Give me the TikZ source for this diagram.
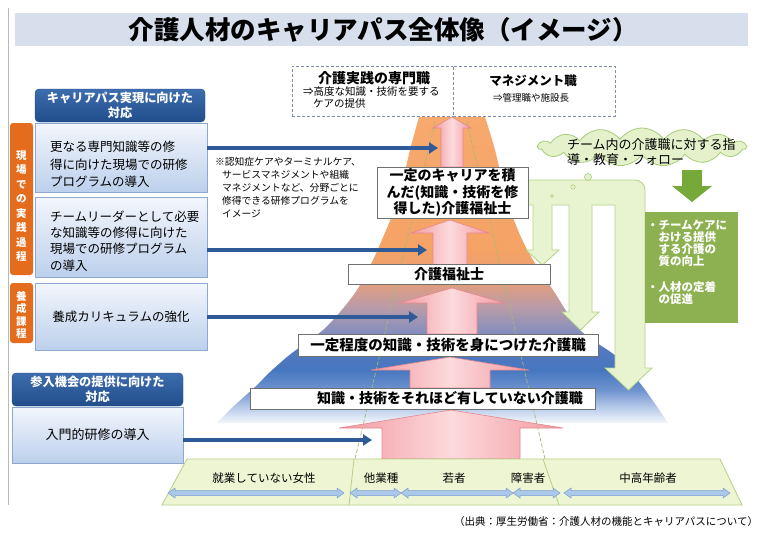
\documentclass[tikz,border=0pt]{standalone}
\usepackage{fontspec}
\setmainfont{Noto Sans CJK JP}
\usetikzlibrary{shapes.symbols,arrows.meta}
\definecolor{titlebg}{HTML}{D6DFEB}
\definecolor{hdrtop}{HTML}{3D6DAF}
\definecolor{hdrbot}{HTML}{214D8A}
\definecolor{lboxtop}{HTML}{F3F6FC}
\definecolor{lboxbot}{HTML}{BCD0EC}
\definecolor{lboxline}{HTML}{8FA8D0}
\definecolor{sideorange}{HTML}{E46C1C}
\definecolor{barrowcol}{HTML}{2E5B98}
\definecolor{pinkmid}{HTML}{FCDADC}
\definecolor{pinkedge}{HTML}{F29AA2}
\definecolor{pinkline}{HTML}{E5878E}
\definecolor{glinecol}{HTML}{A3BC6E}
\definecolor{dashcol}{HTML}{7D8CA8}
\definecolor{cloudfill}{HTML}{E4F1CB}
\definecolor{cloudline}{HTML}{A9CB78}
\definecolor{garrow}{HTML}{76A83A}
\definecolor{gboxcol}{HTML}{8DB150}
\definecolor{combfill}{HTML}{E8F4D0}
\definecolor{combline}{HTML}{B3D288}
\definecolor{bandfill}{HTML}{EEF5D3}
\definecolor{bandline}{HTML}{B8CE86}
\definecolor{dblfill}{HTML}{ABC8EA}
\definecolor{dblline}{HTML}{7C9FCC}
\definecolor{wline}{HTML}{707070}
\definecolor{pyA}{HTML}{F4F7FB}
\definecolor{pyB}{HTML}{B8CBEA}
\definecolor{pyC}{HTML}{6F93CF}
\definecolor{pyD}{HTML}{4676C0}
\definecolor{pyE}{HTML}{5279BE}
\definecolor{pyF}{HTML}{8A90BC}
\definecolor{pyG}{HTML}{BD9CA5}
\definecolor{pyH}{HTML}{E69E78}
\definecolor{pyI}{HTML}{F5A265}
\definecolor{pyJ}{HTML}{F7A96E}
\pgfdeclareverticalshading{pyr}{100bp}{color(0bp)=(pyA); color(25bp)=(pyA); color(27.5bp)=(pyB); color(30.4bp)=(pyC); color(33.7bp)=(pyD); color(36.9bp)=(pyE); color(40.2bp)=(pyF); color(44.3bp)=(pyG); color(48.4bp)=(pyH); color(53.3bp)=(pyI); color(75bp)=(pyJ); color(100bp)=(pyJ)}
% cx, ybottom, ytip, shaft half, head half, head length
\newcommand\pinkarr[6]{%
  \shadedraw[pinkarrow] ({#1-#4},#2) -- ({#1-#4},{#3+#6}) -- ({#1-#5},{#3+#6}) -- (#1,#3) -- ({#1+#5},{#3+#6}) -- ({#1+#4},{#3+#6}) -- ({#1+#4},#2) -- cycle;}
% x1, x2, y
\newcommand\dblarr[3]{%
  \filldraw[dblarrow] (#1,#3) -- ({#1+7},{#3-5}) -- ({#1+7},{#3-2.5}) -- ({#2-7},{#3-2.5}) -- ({#2-7},{#3-5}) -- (#2,#3) -- ({#2-7},{#3+5}) -- ({#2-7},{#3+2.5}) -- ({#1+7},{#3+2.5}) -- ({#1+7},{#3+5}) -- cycle;}
\begin{document}
\begin{tikzpicture}[x=1pt,y=-1pt,
  every node/.style={inner sep=0pt, outer sep=0pt},
  hdr/.style={rounded corners=4pt, top color=hdrtop, bottom color=hdrbot, draw=hdrbot, text=white, font=\fontsize{12.2}{15}\selectfont\bfseries, align=center},
  lbox/.style={top color=lboxtop, bottom color=lboxbot, draw=lboxline, line width=0.7pt},
  side/.style={fill=sideorange, rounded corners=3pt},
  sidetext/.style={text=white, font=\fontsize{10.5}{14.5}\selectfont\bfseries, align=center},
  btext/.style={font=\fontsize{12.5}{17.5}\selectfont, align=left, anchor=west},
  barrow/.style={draw=barrowcol, line width=4.5pt, -{Triangle[length=9pt,width=11pt]}},
  wbox/.style={fill=white, draw=wline, line width=0.8pt},
  wtext/.style={font=\fontsize{14}{16.5}\selectfont\bfseries, align=center},
  dashbox/.style={fill=white, draw=dashcol, dash pattern=on 3pt off 2pt, line width=1pt},
  pinkarrow/.style={left color=pinkedge, right color=pinkedge, middle color=pinkmid, draw=pinkline, line width=0.6pt},
  gline/.style={draw=glinecol, line width=0.7pt, dash pattern=on 4pt off 2pt},
  dblarrow/.style={fill=dblfill, draw=dblline, line width=0.5pt},
  bandtext/.style={font=\fontsize{11.5}{13}\selectfont},
]
\useasboundingbox (0,0) rectangle (765,533);
\fill[white] (0,0) rectangle (765,533);

% title
\node[fill=titlebg, minimum width=733pt, minimum height=33pt] (titlebar) at (381.5,29) {};
\node[font=\fontsize{25.5}{27}\selectfont\bfseries] (title) at (383,29.5) {介護人材のキャリアパス全体像（イメージ）};
\draw[gray!55, line width=0.8pt] (8,8) -- (8,505);

% pyramid
\shade[shading=pyr] plot[smooth, tension=0.5] coordinates {(419,117) (410,150) (398,200) (384,235) (373,260) (357,290) (340,312) (323,330) (300,347) (287,357) (270,372) (255,387) (235,405) (217,423)}
  -- plot[smooth, tension=0.5] coordinates {(668,423) (643,387) (617,357) (580,330) (553,290) (533,260) (520,235) (507,200) (495,150) (485,117)} -- cycle;

% inner green lines
\draw[gline] (435,122) -- (355,459);
\draw[gline] (467,122) -- (545,459);

% pink arrows
\pinkarr{452}{167}{117}{11}{19}{11}
\pinkarr{450}{265}{220}{17}{39}{13}
\pinkarr{452}{334}{288}{25}{53}{15}
\pinkarr{450}{388}{357}{40}{79}{13}
\pinkarr{451}{459}{410}{69}{112}{18}

% green comb
\filldraw[fill=combfill, draw=combline, line width=0.8pt] (528,180) -- (635,180) arc[start angle=-90, end angle=0, radius=10] -- (645,368) -- (652,368) -- (628.5,390) -- (605,368) -- (615,368) -- (615,205) -- (592,205) -- (592,312) -- (599,312) -- (580.5,330) -- (562,312) -- (569,312) -- (569,205) -- (552,205) -- (552,250) -- (559,250) -- (542.5,265) -- (526,250) -- (533,250) -- (533,205) -- (528,205) -- cycle;

% cloud
\node[cloud, cloud puffs=15, cloud puff arc=110, aspect=5.5, fill=cloudfill, draw=cloudline, line width=0.8pt, minimum width=208pt, minimum height=38pt] (cloud) at (642,147) {};
\node[anchor=west, align=left, font=\fontsize{13}{15}\selectfont] (cloudt) at (567,152.5) {チーム内の介護職に対する指\\導・教育・フォロー};
\node[circle, fill=cloudfill, draw=cloudline, line width=0.6pt, minimum size=7pt] (bub1) at (588,177) {};
\node[circle, fill=cloudfill, draw=cloudline, line width=0.5pt, minimum size=4.5pt] (bub2) at (573,187) {};
\node[circle, fill=cloudfill, draw=cloudline, line width=0.4pt, minimum size=3pt] (bub3) at (552,196) {};

% green arrow and box
\fill[garrow] (682,170) -- (702,170) -- (702,186) -- (712,186) -- (692,202) -- (672,186) -- (682,186) -- cycle;
\node[fill=gboxcol, minimum width=93pt, minimum height=111pt] (gbox) at (691.5,267.5) {};
\node[anchor=north west, align=left, text=white, font=\fontsize{11.5}{12}\selectfont\bfseries] (gboxt) at (647,220) {・チームケアに\\　おける提供\\　する介護の\\　質の向上\\[14pt]・人材の定着\\　の促進};

% top dashed boxes
\node[dashbox, minimum width=161pt, minimum height=50pt] (expert) at (372.5,91) {};
\node[dashbox, minimum width=162pt, minimum height=50pt] (mgmt) at (534,91) {};
\node[font=\fontsize{14}{16}\selectfont\bfseries] (expt1) at (374,78) {介護実践の専門職};
\node[anchor=west, font=\fontsize{10.5}{12}\selectfont] (expt2) at (303,92) {⇒高度な知識・技術を要する};
\node[anchor=west, font=\fontsize{10.5}{12}\selectfont] (expt3) at (313,104) {ケアの提供};
\node[font=\fontsize{12.5}{14}\selectfont\bfseries] (mgt1) at (533,81) {マネジメント職};
\node[font=\fontsize{9.5}{11}\selectfont] (mgt2) at (531,98) {⇒管理職や施設長};

% white level boxes
\node[wbox, wtext, minimum width=151pt, minimum height=51pt] (w1) at (452.5,192.5) {一定のキャリアを積\\んだ(知識・技術を修\\得した)介護福祉士};
\node[wbox, wtext, minimum width=202pt, minimum height=20pt] (w2) at (449,274.5) {介護福祉士};
\node[wbox, wtext, minimum width=300pt, minimum height=22pt, font=\fontsize{14.5}{16}\selectfont\bfseries] (w3) at (448,345) {一定程度の知識・技術を身につけた介護職};
\node[wbox, minimum width=345pt, minimum height=21pt] (w4) at (422.5,398.5) {};
\node[wtext] (w4t) at (450,398.5) {知識・技術をそれほど有していない介護職};

% bottom band
\filldraw[fill=bandfill, draw=bandline, line width=0.8pt] (187,459) -- (720,459) -- (742,505) -- (162,505) -- cycle;
\draw[bandline, line width=0.8pt] (354,459) -- (349,505);
\draw[bandline, line width=0.8pt] (543,459) -- (559,505);
\node[bandtext] (g1) at (264,478) {就業していない女性};
\node[bandtext] (g2) at (381,478) {他業種};
\node[bandtext] (g3) at (454,478) {若者};
\node[bandtext] (g4) at (528,478) {障害者};
\node[bandtext] (g5) at (648,478) {中高年齢者};
\dblarr{168}{344}{493}
\dblarr{350}{401}{493}
\dblarr{401}{513}{493}
\dblarr{513}{560}{493}
\dblarr{564}{730}{493}

% left column
\node[lbox, minimum width=172pt, minimum height=69pt] (b1) at (121,157.5) {};
\node[lbox, minimum width=172pt, minimum height=80pt] (b2) at (121,237) {};
\node[lbox, minimum width=172pt, minimum height=67pt, font=\fontsize{12.5}{15}\selectfont] (b3) at (121,316.5) {養成カリキュラムの強化};
\node[hdr, minimum width=170pt, minimum height=33pt] (h1) at (120,105.5) {キャリアパス実現に向けた\\対応};
\node[btext] (b1t) at (50,164.5) {更なる専門知識等の修\\得に向けた現場での研修\\プログラムの導入};
\node[btext, font=\fontsize{12.5}{16.3}\selectfont] (b2t) at (50,241) {チームリーダーとして必要\\な知識等の修得に向けた\\現場での研修プログラム\\の導入};
\node[side, minimum width=23pt, minimum height=152pt] (o1) at (21.5,199) {};
\node[sidetext] (o1t) at (21.5,206) {現\\場\\で\\の\\実\\践\\過\\程};
\node[side, minimum width=23pt, minimum height=60pt] (o2) at (21.5,313) {};
\node[sidetext, font=\fontsize{10.5}{12.5}\selectfont\bfseries] (o2t) at (21.5,315) {養\\成\\課\\程};
\node[lbox, minimum width=171pt, minimum height=56pt, font=\fontsize{13}{15}\selectfont] (b4) at (97.5,435) {入門的研修の導入};
\node[hdr, minimum width=171pt, minimum height=33pt] (h2) at (97.5,389.5) {参入機会の提供に向けた\\対応};

% blue arrows
\coordinate (e1) at (438,148);
\coordinate (e2) at (427,250);
\coordinate (e3) at (418,317);
\coordinate (e4) at (372,440);
\draw[barrow] (b1.east |- e1) -- (e1);
\draw[barrow] (b2.east |- e2) -- (e2);
\draw[barrow] (b3.east |- e3) -- (e3);
\draw[barrow] (b4.east |- e4) -- (e4);

% note and citation
\node[anchor=north west, align=left, font=\fontsize{9.8}{13}\selectfont] (note) at (215,157) {※認知症ケアやターミナルケア、\\\hspace*{7pt}サービスマネジメントや組織\\\hspace*{7pt}マネジメントなど、分野ごとに\\\hspace*{7pt}修得できる研修プログラムを\\\hspace*{7pt}イメージ};
\node[anchor=east, font=\fontsize{10.5}{12}\selectfont] (cite) at (758,522) {（出典：厚生労働省：介護人材の機能とキャリアパスについて）};
\end{tikzpicture}
\end{document}
